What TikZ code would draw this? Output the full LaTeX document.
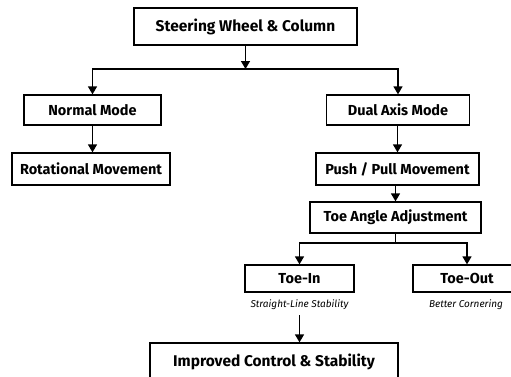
\documentclass[tikz,border=0pt]{standalone}
\usepackage{fontspec}
\setmainfont{Fira Sans}
\usepackage{tikz}
\usetikzlibrary{arrows.meta}

\begin{document}
\begin{tikzpicture}[
  x=1pt,y=-1pt,
  every node/.style={font=\bfseries\fontsize{14.5}{16}\selectfont},
  box/.style={draw,line width=1.3pt,inner sep=0pt,fill=white},
  big/.style={font=\bfseries\fontsize{15.5}{17}\selectfont},
  note/.style={font=\itshape\fontsize{10}{12}\selectfont,inner sep=2pt},
  arr/.style={line width=1.5pt,-{Triangle[width=9pt,length=8pt]}},
  line/.style={line width=1.5pt}
]
  \useasboundingbox (0,0) rectangle (511,376);

  \node[box,big,minimum width=223pt,minimum height=37pt] (wheel) at (245.5,26.5) {Steering Wheel \& Column};
  \node[box,minimum width=137pt,minimum height=30pt] (normal) at (92.5,110) {Normal Mode};
  \node[box,minimum width=143pt,minimum height=30pt] (dual) at (398,110) {Dual Axis Mode};
  \node[box,minimum width=158pt,minimum height=32pt] (rot) at (91,169) {Rotational Movement};
  \node[box,minimum width=163pt,minimum height=32pt] (push) at (397.5,169) {Push / Pull Movement};
  \node[box,minimum width=171pt,minimum height=31pt] (toe) at (395.5,217.5) {Toe Angle Adjustment};
  \node[box,minimum width=109pt,minimum height=27pt] (toein) at (299.5,278.5) {Toe-In};
  \node[box,minimum width=108pt,minimum height=27pt] (toeout) at (467,278.5) {Toe-Out};
  \node[note] (straight) at (299.5,305) {Straight-Line Stability};
  \node[note] (corner) at (466,305) {Better Cornering};
  \node[box,big,minimum width=248pt,minimum height=37pt] (result) at (274,361.5) {Improved Control \& Stability};

  % top split
  \coordinate (split) at (245.5,69);
  \draw[arr] (wheel) -- (split);
  \draw[arr] (split) -| (normal);
  \draw[arr] (split) -| (dual);

  \draw[arr] (normal) -- (normal |- rot.north);
  \draw[arr] (dual.south -| push) -- (push);
  \draw[arr] (push.south -| toe) -- (toe);

  % toe split
  \coordinate (fork) at (395.5,243);
  \draw[line] (toe) -- (fork);
  \draw[arr] (fork) -| (toein);
  \draw[arr] (fork) -| (toeout);

  \draw[arr] ([yshift=-3pt]straight.south) -- (straight.south |- result.north);
\end{tikzpicture}
\end{document}
